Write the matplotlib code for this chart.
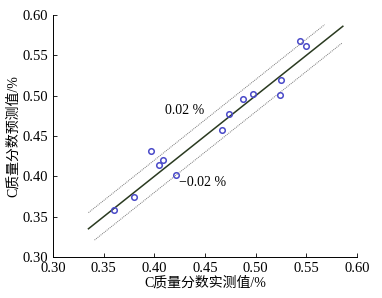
import matplotlib
matplotlib.use("Agg")
import matplotlib.pyplot as plt
import numpy as np

plt.rcParams['font.family'] = ['Liberation Serif', 'Noto Sans CJK SC']
plt.rcParams['axes.unicode_minus'] = False

measured = [0.397, 0.409, 0.405, 0.421, 0.380, 0.360, 0.544, 0.550,
            0.525, 0.524, 0.497, 0.4875, 0.474, 0.467]
predicted = [0.432, 0.420, 0.414, 0.402, 0.374, 0.358, 0.568, 0.561,
             0.519, 0.501, 0.502, 0.496, 0.477, 0.457]
fit_x = [0.335, 0.586]
upper_x = [0.335, 0.568]
lower_x = [0.341, 0.585]
offset = 0.02
ticks = [0.30, 0.35, 0.40, 0.45, 0.50, 0.55, 0.60]

fig = plt.figure(figsize=(3.82, 2.98), dpi=100)
ax = fig.add_axes([0.1387, 0.1376, 0.7959, 0.8121])

fx = np.array(fit_x)
ux = np.array(upper_x)
lx = np.array(lower_x)
ax.plot(fx, fx, color='#2a3a20', lw=1.1)
ax.plot(ux, ux + offset, color='#777777', lw=0.7, ls=(0, (1, 1)))
ax.plot(lx, lx - offset, color='#777777', lw=0.7, ls=(0, (1, 1)))
ax.plot(measured, predicted, 'o', mfc='none', mec='#4a4ac8', mew=1.1, ms=4)

ax.text(0.411, 0.481, '0.02 %', fontsize=10, ha='left', va='center')
ax.text(0.424, 0.392, '\u22120.02 %', fontsize=10, ha='left', va='center',
        family=['Liberation Serif', 'DejaVu Sans'])

ax.set_xlim(0.30, 0.60)
ax.set_ylim(0.30, 0.60)
ax.set_xticks(ticks)
ax.set_yticks(ticks)
ax.set_xticklabels([f'{t:.2f}' for t in ticks])
ax.set_yticklabels([f'{t:.2f}' for t in ticks])
ax.tick_params(direction='in', labelsize=10.5, length=3, width=0.6)
for s in ['top', 'right']:
    ax.spines[s].set_visible(False)
for s in ['left', 'bottom']:
    ax.spines[s].set_linewidth(0.7)
ax.set_xlabel('C质量分数实测值/%', fontsize=10, labelpad=1)
ax.set_ylabel('C质量分数预测值/%', fontsize=10, labelpad=2)

fig.savefig('out.png', dpi=100)
